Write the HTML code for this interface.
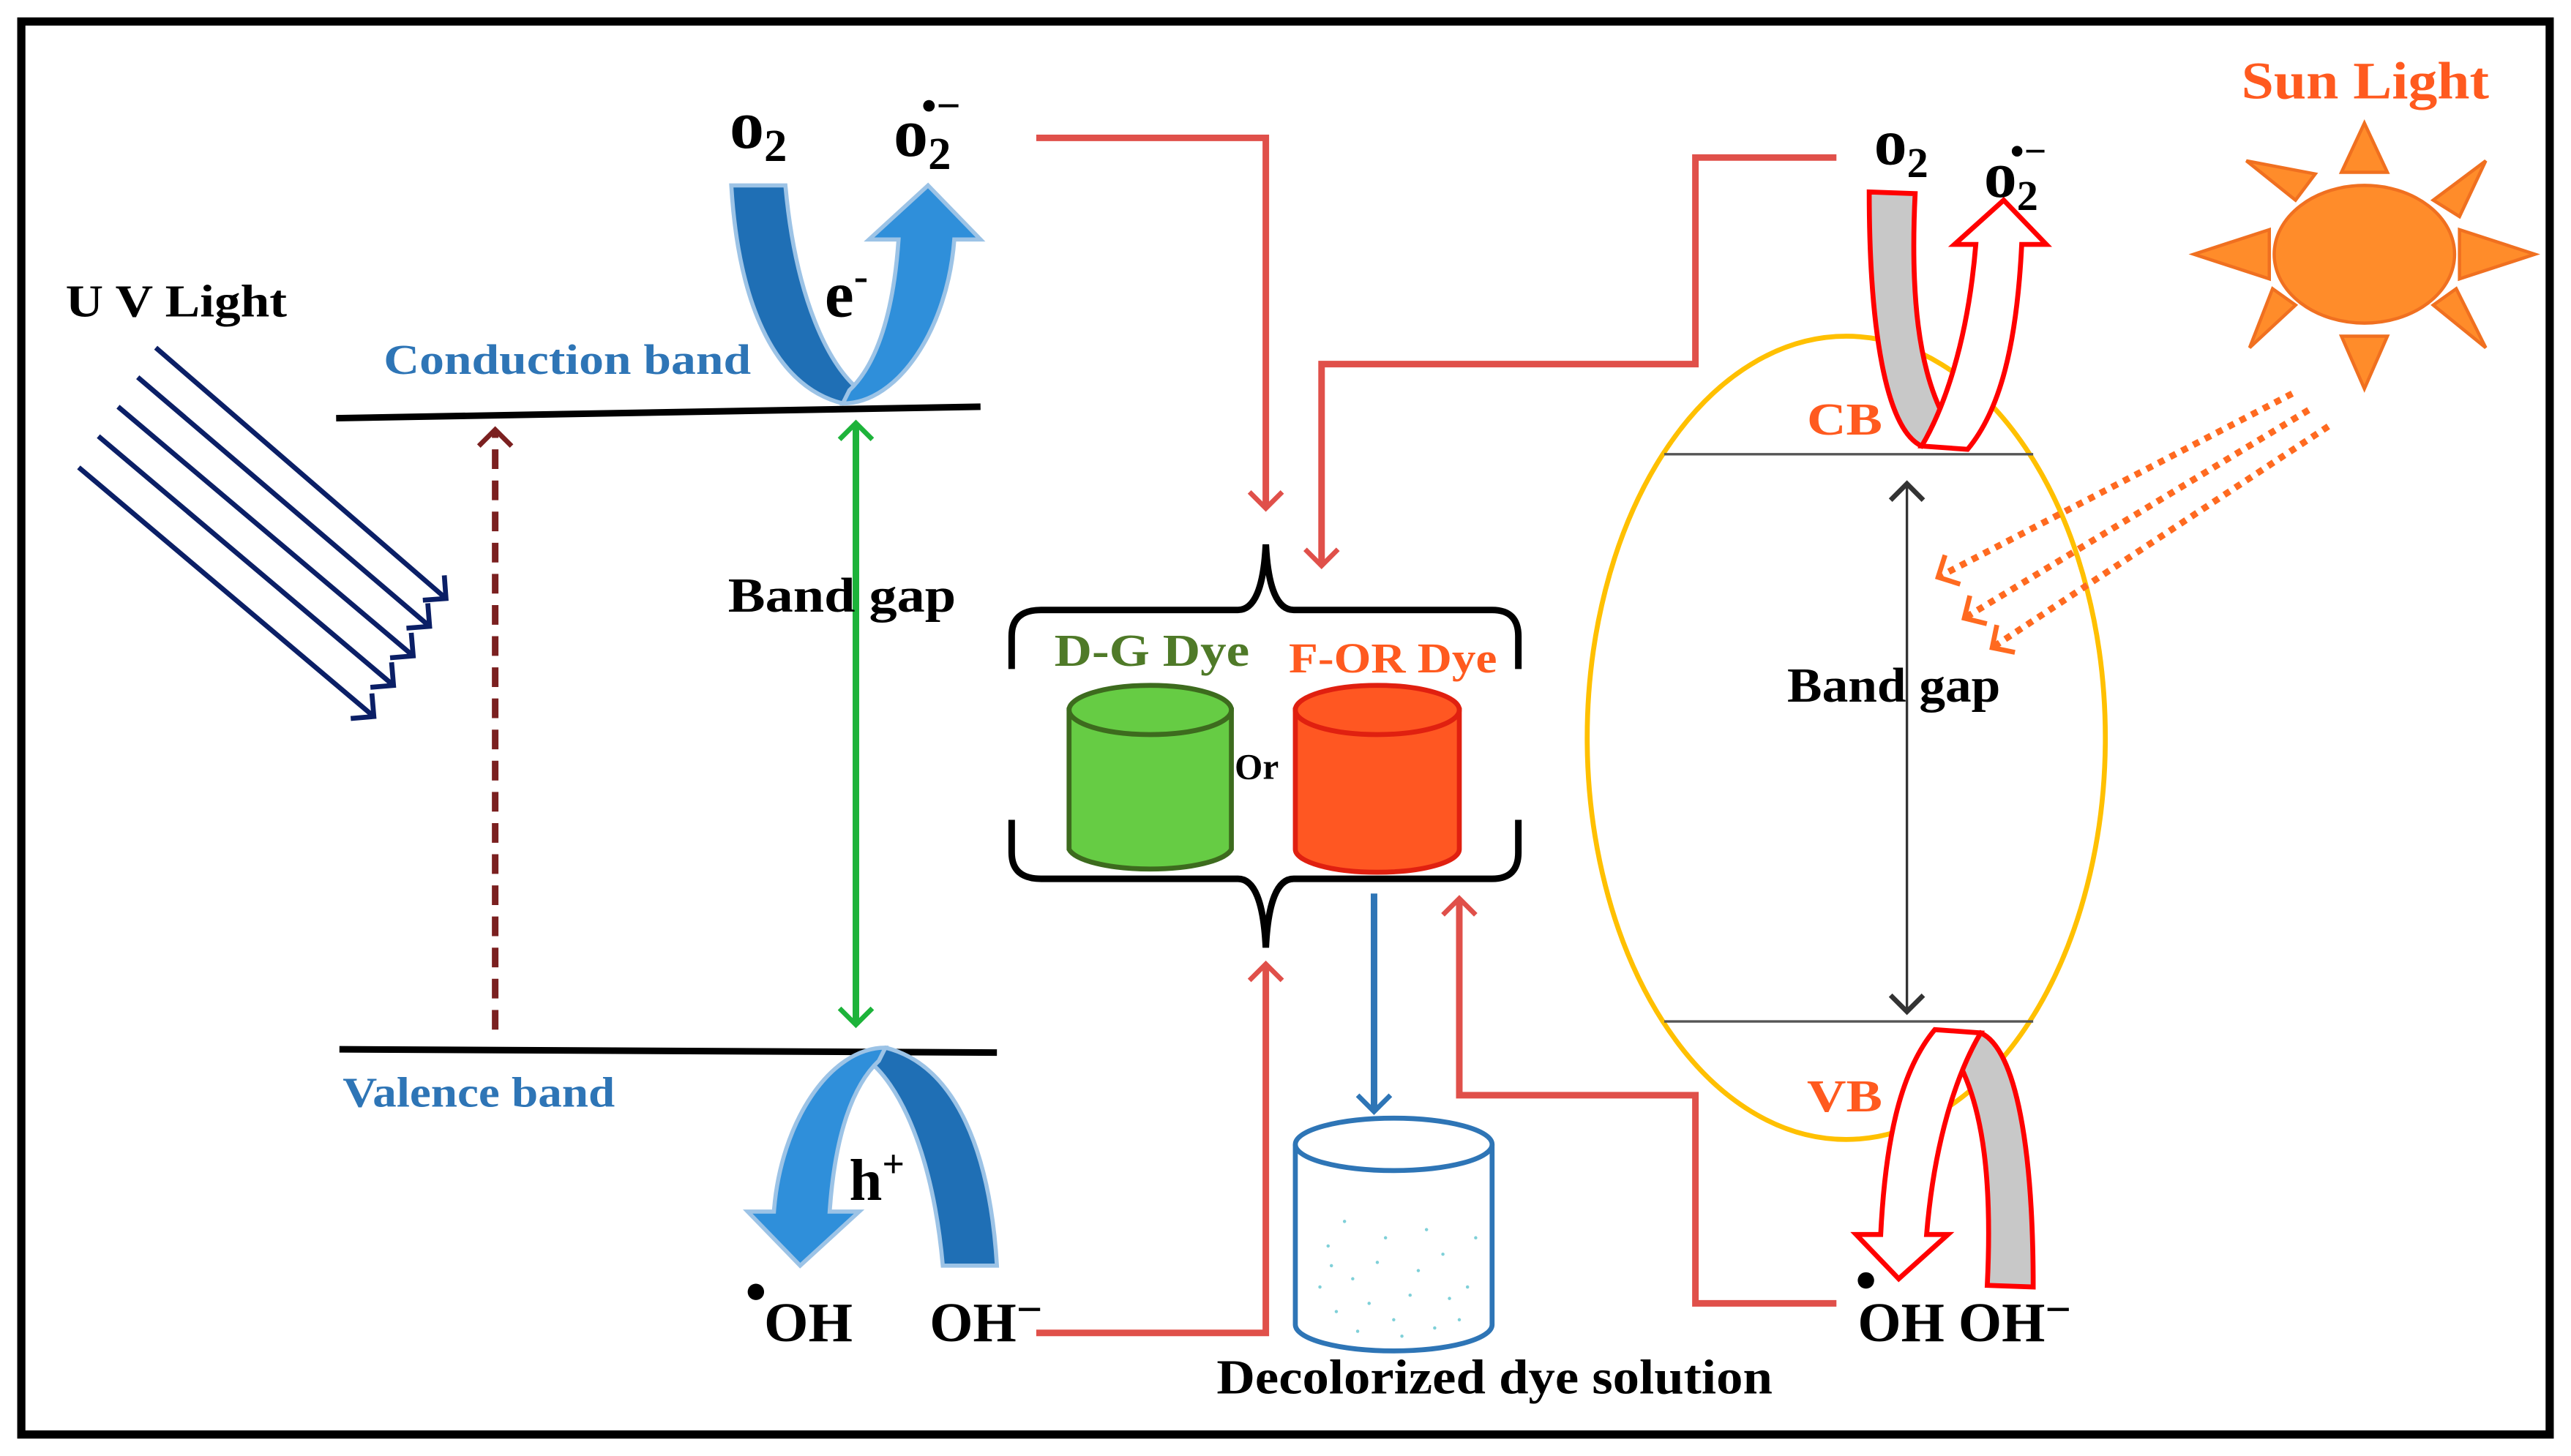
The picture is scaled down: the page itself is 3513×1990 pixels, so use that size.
<!DOCTYPE html>
<html><head><meta charset="utf-8"><style>
html,body{margin:0;padding:0;background:#fff}
svg{display:block}
text{font-family:"Liberation Serif",serif;font-weight:bold}
</style></head><body>
<svg width="3513" height="1990" viewBox="0 0 1568 888" xmlns="http://www.w3.org/2000/svg">
<defs>
<marker id="ah" markerWidth="24" markerHeight="24" refX="12" refY="12" orient="auto-start-reverse" markerUnits="userSpaceOnUse" viewBox="0 0 24 24"><path d="M2,2 L12,12 L2,22" fill="none" stroke="context-stroke" stroke-width="3"/></marker>
<g id="blueU">
<path d="M446,113 L479,113 C485,180 505,225 527,240 L514,246 C470,235 450,180 446,113 Z" fill="#1f6fb5" stroke="#9cc3e6" stroke-width="2.5"/>
<path d="M514,246 C548,246 578,200 582,146 L598,146 L566,113 L530,146 L548,146 C545,190 535,222 518,238 Z" fill="#2f8fda" stroke="#9cc3e6" stroke-width="2.5"/>
</g>
<g id="redU">
<path d="M1140,117 L1168,118 C1165,180 1170,225 1186,255 L1172,272 C1150,262 1140,200 1140,117 Z" fill="#c8c8c8" stroke="#ff0000" stroke-width="3"/>
<path d="M1172,272 C1185,250 1200,210 1205,149 L1192,149 L1222,122 L1248,149 L1233,149 C1230,210 1220,250 1200,274 Z" fill="#fff" stroke="#ff0000" stroke-width="3"/>
</g>
</defs>
<rect x="13" y="13" width="1542" height="862" fill="#fff" stroke="#000" stroke-width="5"/>

<!-- UV -->
<text x="40" y="193" font-size="28" textLength="135" lengthAdjust="spacingAndGlyphs">U V Light</text>
<g stroke="#0b1f66" stroke-width="3" fill="none">
<line x1="48" y1="285" x2="228" y2="437" marker-end="url(#ah)"/>
<line x1="60" y1="266" x2="240" y2="418" marker-end="url(#ah)"/>
<line x1="72" y1="248" x2="252" y2="400" marker-end="url(#ah)"/>
<line x1="84" y1="230" x2="262" y2="382" marker-end="url(#ah)"/>
<line x1="95" y1="212" x2="272" y2="365" marker-end="url(#ah)"/>
</g>

<line x1="205" y1="255" x2="598" y2="248" stroke="#000" stroke-width="4"/>
<line x1="207" y1="640" x2="608" y2="642" stroke="#000" stroke-width="4"/>
<text x="234" y="228" font-size="26" fill="#2e75b6" textLength="224" lengthAdjust="spacingAndGlyphs">Conduction  band</text>
<text x="209" y="675" font-size="26" fill="#2e75b6" textLength="166" lengthAdjust="spacingAndGlyphs">Valence band</text>
<line x1="302" y1="628" x2="302" y2="262" stroke="#7b2020" stroke-width="4" stroke-dasharray="12 7" marker-end="url(#ah)"/>
<line x1="522" y1="258" x2="522" y2="625" stroke="#1db33a" stroke-width="4" marker-start="url(#ah)" marker-end="url(#ah)"/>
<text x="444" y="373" font-size="30" textLength="139" lengthAdjust="spacingAndGlyphs">Band  gap</text>

<use href="#blueU"/>
<text x="503" y="193" font-size="40">e<tspan font-size="26" dy="-16">-</tspan></text>
<text x="445" y="90" font-size="42" font-family="Liberation Sans,sans-serif">o<tspan font-size="28" dy="8">2</tspan></text>
<text x="545" y="95" font-size="42" font-family="Liberation Sans,sans-serif">o<tspan font-size="28" dy="8">2</tspan><tspan font-size="26" dx="-18" dy="-30">•−</tspan></text>

<use href="#blueU" transform="rotate(180 527 442.5)"/>
<text x="518" y="732" font-size="36">h<tspan font-size="24" dy="-14">+</tspan></text>
<circle cx="461" cy="788" r="5" fill="#000"/>
<text x="466" y="818" font-size="34" textLength="54" lengthAdjust="spacingAndGlyphs">OH</text>
<text x="567" y="818" font-size="34">OH<tspan font-size="28" dy="-10">−</tspan></text>

<!-- red connectors -->
<g stroke="#e0504a" stroke-width="4" fill="none">
<polyline points="632,84 772,84 772,310" marker-end="url(#ah)"/>
<polyline points="1120,96 1034,96 1034,222 806,222 806,345" marker-end="url(#ah)"/>
<polyline points="632,813 772,813 772,588" marker-end="url(#ah)"/>
<polyline points="1120,795 1034,795 1034,668 890,668 890,548" marker-end="url(#ah)"/>
</g>

<!-- braces -->
<g stroke="#000" stroke-width="4" fill="none">
<path d="M617,408 L617,388 Q617,372 635,372 L755,372 Q770,372 772,332 Q774,372 789,372 L910,372 Q926,372 926,388 L926,408"/>
<path d="M617,500 L617,520 Q617,536 635,536 L755,536 Q770,536 772,578 Q774,536 789,536 L910,536 Q926,536 926,520 L926,500"/>
</g>
<text x="643" y="406" font-size="28" fill="#4f7a28" textLength="119" lengthAdjust="spacingAndGlyphs">D-G Dye</text>
<text x="786" y="410" font-size="26" fill="#ff5a1f" textLength="127" lengthAdjust="spacingAndGlyphs">F-OR Dye</text>
<g stroke="#3d6b1e" stroke-width="3">
<path d="M652,433 L652,518 A50,14 0 0 0 751,518 L751,433 Z" fill="#66cc44"/>
<ellipse cx="701.5" cy="433" rx="49.5" ry="15" fill="#66cc44"/>
</g>
<text x="753" y="475" font-size="22">Or</text>
<g stroke="#e02010" stroke-width="3">
<path d="M790,433 L790,518 A50,14 0 0 0 890,518 L890,433 Z" fill="#ff5722"/>
<ellipse cx="840" cy="433" rx="50" ry="15" fill="#ff5722"/>
</g>
<line x1="838" y1="545" x2="838" y2="678" stroke="#2e75b6" stroke-width="4" marker-end="url(#ah)"/>
<g stroke="#2e75b6" stroke-width="3" fill="#fff">
<path d="M790,698 L790,808 A60,16 0 0 0 910,808 L910,698"/>
<ellipse cx="850" cy="698" rx="60" ry="16"/>
</g>
<g fill="#7fd0d8">
<circle cx="810" cy="760" r="1"/><circle cx="825" cy="780" r="1"/><circle cx="840" cy="770" r="1"/><circle cx="860" cy="790" r="1"/><circle cx="880" cy="765" r="1"/><circle cx="895" cy="785" r="1"/><circle cx="815" cy="800" r="1"/><circle cx="850" cy="805" r="1"/><circle cx="870" cy="750" r="1"/><circle cx="835" cy="795" r="1"/><circle cx="890" cy="805" r="1"/><circle cx="805" cy="785" r="1"/><circle cx="845" cy="755" r="1"/><circle cx="865" cy="775" r="1"/><circle cx="900" cy="755" r="1"/><circle cx="820" cy="745" r="1"/><circle cx="855" cy="815" r="1"/><circle cx="875" cy="810" r="1"/><circle cx="828" cy="812" r="1"/><circle cx="884" cy="792" r="1"/><circle cx="812" cy="772" r="1"/>
</g>
<text x="742" y="850" font-size="30" textLength="339" lengthAdjust="spacingAndGlyphs">Decolorized dye solution</text>

<!-- right semiconductor -->
<ellipse cx="1126" cy="450" rx="158" ry="245" fill="none" stroke="#ffc000" stroke-width="3"/>
<line x1="1015" y1="277" x2="1240" y2="277" stroke="#555" stroke-width="1.5"/>
<line x1="1015" y1="623" x2="1240" y2="623" stroke="#555" stroke-width="1.5"/>
<line x1="1163" y1="295" x2="1163" y2="617" stroke="#333" stroke-width="1.5" marker-start="url(#ah)" marker-end="url(#ah)"/>
<text x="1090" y="428" font-size="30" textLength="130" lengthAdjust="spacingAndGlyphs">Band gap</text>
<text x="1102" y="265" font-size="28" fill="#ff5a1f" textLength="46" lengthAdjust="spacingAndGlyphs">CB</text>
<text x="1102" y="678" font-size="28" fill="#ff5a1f" textLength="46" lengthAdjust="spacingAndGlyphs">VB</text>
<use href="#redU"/>
<use href="#redU" transform="rotate(180 1190 451)"/>
<text x="1143" y="100" font-size="40" font-family="Liberation Sans,sans-serif">o<tspan font-size="26" dy="8">2</tspan></text>
<text x="1210" y="120" font-size="40" font-family="Liberation Sans,sans-serif">o<tspan font-size="26" dy="8">2</tspan><tspan font-size="24" dx="-17" dy="-28">•−</tspan></text>
<circle cx="1138" cy="781" r="5" fill="#000"/>
<text x="1133" y="818" font-size="34">OH OH<tspan font-size="28" dy="-10">−</tspan></text>

<!-- sun -->
<text x="1367" y="60" font-size="32" fill="#ff5a1f" textLength="151" lengthAdjust="spacingAndGlyphs">Sun Light</text>
<g fill="#ff8c2a" stroke="#f07020" stroke-width="2">
<ellipse cx="1442" cy="155" rx="55" ry="42"/>
<polygon points="1428,105 1456,105 1442,75"/>
<polygon points="1428,205 1456,205 1442,237"/>
<polygon points="1384,140 1384,170 1338,155"/>
<polygon points="1500,140 1500,170 1546,155"/>
<polygon points="1400,122 1370,98 1412,106"/>
<polygon points="1484,122 1516,98 1500,132"/>
<polygon points="1400,186 1372,212 1386,176"/>
<polygon points="1484,186 1516,212 1498,176"/>
</g>
<g stroke="#ff6a20" stroke-width="4" fill="none" stroke-dasharray="4 4">
<line x1="1398" y1="240" x2="1182" y2="352" marker-end="url(#ah)"/>
<line x1="1408" y1="250" x2="1198" y2="377" marker-end="url(#ah)"/>
<line x1="1420" y1="260" x2="1215" y2="395" marker-end="url(#ah)"/>
</g>
</svg>
</body></html>
